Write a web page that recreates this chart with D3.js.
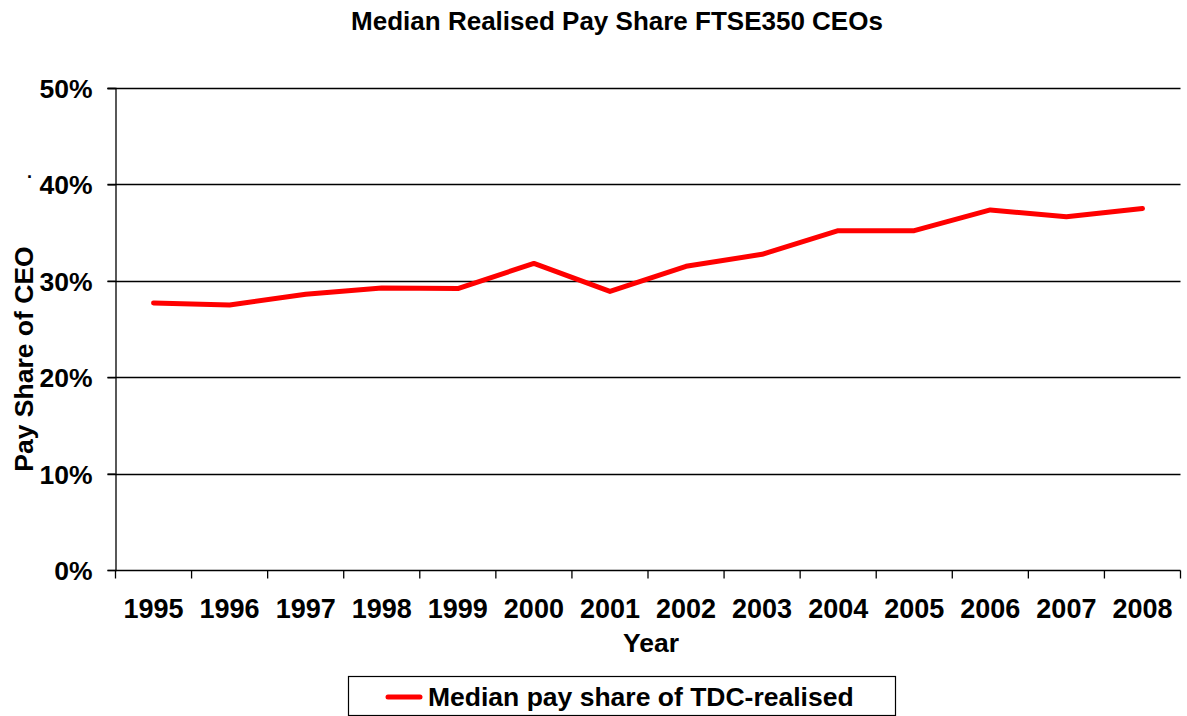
<!DOCTYPE html>
<html>
<head>
<meta charset="utf-8">
<script src="https://cdn.jsdelivr.net/npm/d3@7"></script>
<style>
  body { margin: 0; background: #fff; }
  text { font-family: "Liberation Sans", Arial, sans-serif; font-weight: bold; fill: #000; }
</style>
</head>
<body>
<div id="chart"></div>
<script>
// data
var years = ["1995","1996","1997","1998","1999","2000","2001","2002","2003","2004","2005","2006","2007","2008"]
var payShare = [27.7, 27.5, 28.6, 29.25, 29.2, 31.8, 28.9, 31.5, 32.75, 35.2, 35.2, 37.35, 36.65, 37.5]
var yTicks = [0, 10, 20, 30, 40, 50]
var seriesName = "Median pay share of TDC-realised"

var width = 1187, height = 716
var margin = {left: 115.5, right: 6.5, top: 88, bottom: 146}
var fs = 26.5

var svg = d3.select("#chart").append("svg")
            .attr("width", width)
            .attr("height", height)

var x = d3.scaleBand()
          .domain(years)
          .range([margin.left, width - margin.right])

var y = d3.scaleLinear()
          .domain([0, 50])
          .range([height - margin.bottom, margin.top])

// gridlines
svg.append("g")
   .selectAll("line")
   .data(yTicks.filter(function(d) { return d > 0 }))
   .enter().append("line")
   .attr("x1", margin.left - 8)
   .attr("x2", width - margin.right)
   .attr("y1", function(d) { return Math.round(y(d)) + 0.5 })
   .attr("y2", function(d) { return Math.round(y(d)) + 0.5 })
   .attr("stroke", "#000")
   .attr("stroke-width", 1.3)

// y axis
var yAxis = svg.append("g")
               .attr("transform", "translate(" + margin.left + ",0)")
               .call(d3.axisLeft(y).tickValues(yTicks).tickSize(8).tickFormat(function(d) { return d + "%" }))
yAxis.select(".domain").attr("stroke", "#000").attr("stroke-width", 1.3)
yAxis.selectAll(".tick line").attr("stroke", "#000").attr("stroke-width", 1.3)
yAxis.selectAll("text").attr("font-size", fs).attr("x", -23).attr("dy", "0.36em")

// x axis with ticks between categories
var xAxisG = svg.append("g")
                .attr("transform", "translate(0," + (Math.round(y(0)) + 0.5) + ")")
xAxisG.append("line")
      .attr("x1", margin.left).attr("x2", width - margin.right)
      .attr("stroke", "#000").attr("stroke-width", 1.3)
var edges = years.map(function(d) { return x(d) }).concat([x.range()[1]])
xAxisG.selectAll(".tk")
      .data(edges)
      .enter().append("line")
      .attr("class", "tk")
      .attr("x1", function(d) { return d }).attr("x2", function(d) { return d })
      .attr("y1", 0).attr("y2", 8)
      .attr("stroke", "#000").attr("stroke-width", 1.3)
xAxisG.selectAll(".lbl")
      .data(years)
      .enter().append("text")
      .attr("class", "lbl")
      .attr("x", function(d) { return x(d) + x.bandwidth() / 2 })
      .attr("y", 47)
      .attr("text-anchor", "middle")
      .attr("font-size", 27)
      .text(function(d) { return d })

// the line
var line = d3.line()
             .x(function(d, i) { return x(years[i]) + x.bandwidth() / 2 })
             .y(function(d) { return y(d) })

svg.append("path")
   .datum(payShare)
   .attr("d", line)
   .attr("fill", "none")
   .attr("stroke", "#ff0000")
   .attr("stroke-width", 5)
   .attr("stroke-linejoin", "round")
   .attr("stroke-linecap", "round")

// titles
svg.append("text")
   .attr("x", 617).attr("y", 30)
   .attr("text-anchor", "middle")
   .attr("font-size", 26)
   .text("Median Realised Pay Share FTSE350 CEOs")

svg.append("text")
   .attr("x", 651).attr("y", 652)
   .attr("text-anchor", "middle")
   .attr("font-size", fs)
   .text("Year")

svg.append("text")
   .attr("transform", "translate(33,359) rotate(-90)")
   .attr("text-anchor", "middle")
   .attr("font-size", fs)
   .text("Pay Share of CEO")

// stray dot from the original
svg.append("text")
   .attr("x", 27).attr("y", 178)
   .attr("font-size", 18)
   .text(".")

// legend
var leg = svg.append("g")
leg.append("rect")
   .attr("x", 348.5).attr("y", 676.5)
   .attr("width", 547).attr("height", 39)
   .attr("fill", "#fff").attr("stroke", "#000").attr("stroke-width", 1.2)
leg.append("line")
   .attr("x1", 388).attr("x2", 420)
   .attr("y1", 697).attr("y2", 697)
   .attr("stroke", "#ff0000").attr("stroke-width", 5)
   .attr("stroke-linecap", "round")
leg.append("text")
   .attr("x", 428).attr("y", 706)
   .attr("font-size", fs)
   .text(seriesName)
</script>
</body>
</html>
